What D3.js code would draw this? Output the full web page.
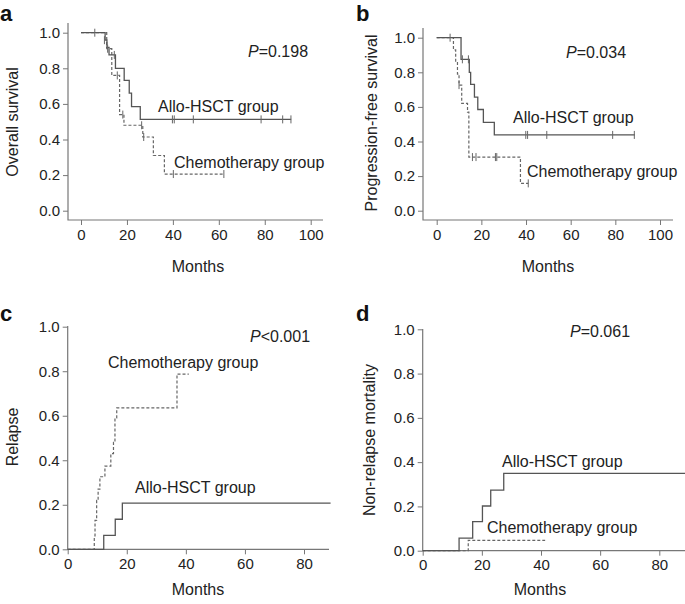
<!DOCTYPE html>
<html>
<head>
<meta charset="utf-8" />
<title>Survival curves</title>
<script src="https://d3js.org/d3.v7.min.js"></script>
<style>
body { margin: 0; background: #fff; }
svg { display: block; font-family: "Liberation Sans", Arial, sans-serif; }
.tick text { font-size: 15px; fill: #222; }
.tick line { stroke: #777; }
.axisline { stroke: #777; stroke-width: 1.2; fill: none; }
.allo { stroke: #555; stroke-width: 1.3; fill: none; }
.chemo { stroke: #666; stroke-width: 1.2; fill: none; stroke-dasharray: 3,2; }
.cens { stroke: #666; stroke-width: 1; }
.lbl { font-size: 16px; fill: #222; }
.letter { font-size: 22px; font-weight: bold; fill: #111; }
</style>
</head>
<body>
<script>
// tick labels
const monthTicksSurv = [0, 20, 40, 60, 80, 100];
const monthTicksCif = [0, 20, 40, 60, 80];
const probTicks = [0, 0.2, 0.4, 0.6, 0.8, 1.0];

// a: overall survival  [month, value]
const osAllo = [[0,1],[10.5,0.958],[11.3,0.917],[12.2,0.875],[15,0.80],[18.8,0.732],[21,0.66],[22,0.585],[25.8,0.513],[91.5,0.513]];
const osAlloCens = [[6,1],[10.2,0.958],[14.5,0.875],[39.8,0.513],[40.6,0.513],[48.9,0.513],[78.4,0.513],[87.8,0.513],[91.4,0.513]];
const osChemo = [[0,1],[11.2,0.91],[13.4,0.76],[16.8,0.54],[18.7,0.48],[26.9,0.414],[31.5,0.31],[36.3,0.206],[62.4,0.206]];
const osChemoCens = [[11.6,0.91],[15.8,0.76],[18.2,0.54],[26.4,0.48],[27.3,0.414],[40.2,0.206],[62.2,0.206]];

// b: progression-free survival
const pfsAllo = [[0,1],[10.9,0.875],[14.6,0.80],[15.2,0.73],[16.9,0.657],[18.4,0.585],[20.9,0.51],[25.8,0.438],[88.8,0.438]];
const pfsAlloCens = [[6,1],[11.5,0.875],[14.2,0.875],[39.9,0.438],[40.7,0.438],[49.3,0.438],[78.8,0.438],[88.5,0.438]];
const pfsChemo = [[0,1],[7.5,0.93],[8.5,0.86],[9.3,0.79],[10,0.726],[11.2,0.62],[13.8,0.57],[14.4,0.31],[37.5,0.158],[41,0.158]];
const pfsChemoCens = [[10,0.726],[16,0.31],[17.6,0.31],[26.3,0.31],[26.9,0.31],[41,0.158]];

// c: relapse (cumulative incidence)
const relAllo = [[0,0],[12.2,0.063],[16.1,0.135],[18.5,0.207],[89,0.207]];
const relChemo = [[0,0],[8.7,0.0],[9.0,0.06],[9.25,0.13],[9.8,0.22],[10.3,0.27],[10.9,0.326],[12.6,0.374],[14.6,0.43],[15.5,0.48],[16.0,0.59],[16.6,0.635],[37,0.787],[41,0.787]];

// d: non-relapse mortality
const nrmAllo = [[0,0],[12.3,0.057],[16.9,0.131],[20.2,0.202],[23.0,0.274],[27.4,0.349],[89,0.349]];
const nrmChemo = [[0,0],[15.4,0.047],[41.4,0.047]];

const W = 685, H = 604;
const svg = d3.select('body').append('svg').attr('width', W).attr('height', H);

const panels = [
  { letter: 'a', lx: 0, ly: 21, ylab: 'Overall survival', ylx: 13, yly: 122,
    x0: 81, x1: 310.7, xMax: 100, yTop: 32.7, yBot: 210.7,
    axX: 68, axTop: 23, axY: 220, axRight: 323, xTicks: monthTicksSurv,
    mx: 198, my: 272, p: ['P', '=0.198'], px: 248, py: 57,
    allo: osAllo, alloC: osAlloCens, chemo: osChemo, chemoC: osChemoCens,
    aLab: [158, 112], cLab: [174, 168] },
  { letter: 'b', lx: 356, ly: 21, ylab: 'Progression-free survival', ylx: 372, yly: 123,
    x0: 436.7, x1: 660, xMax: 100, yTop: 37.7, yBot: 210.7,
    axX: 423, axTop: 28, axY: 220, axRight: 673, xTicks: monthTicksSurv,
    mx: 548, my: 272, p: ['P', '=0.034'], px: 566, py: 58,
    allo: pfsAllo, alloC: pfsAlloCens, chemo: pfsChemo, chemoC: pfsChemoCens,
    aLab: [513, 123], cLab: [527, 177] },
  { letter: 'c', lx: 0, ly: 321, ylab: 'Relapse', ylx: 13, yly: 437,
    x0: 67.7, x1: 304, xMax: 80, yTop: 326.7, yBot: 549.3,
    axX: 67.7, axTop: 326, axY: 549.3, axRight: 329, xTicks: monthTicksCif,
    mx: 198, my: 595, p: ['P', '<0.001'], px: 250, py: 342,
    allo: relAllo, alloC: [], chemo: relChemo, chemoC: [],
    aLab: [135, 493], cLab: [108, 368] },
  { letter: 'd', lx: 356, ly: 321, ylab: 'Non-relapse mortality', ylx: 370, yly: 440,
    x0: 422.7, x1: 659.3, xMax: 80, yTop: 329.3, yBot: 550.7,
    axX: 422.7, axTop: 329, axY: 550.7, axRight: 685, xTicks: monthTicksCif,
    mx: 540, my: 595, p: ['P', '=0.061'], px: 570, py: 337,
    allo: nrmAllo, alloC: [], chemo: nrmChemo, chemoC: [],
    aLab: [502, 467], cLab: [487, 533] }
];

panels.forEach(function(p) {
  const g = svg.append('g');
  const x = d3.scaleLinear().domain([0, p.xMax]).range([p.x0, p.x1]);
  const y = d3.scaleLinear().domain([0, 1]).range([p.yBot, p.yTop]);

  const xa = g.append('g').attr('transform', 'translate(0,' + p.axY + ')')
    .call(d3.axisBottom(x).tickValues(p.xTicks).tickSize(5).tickPadding(4).tickFormat(d3.format('d')));
  xa.select('.domain').remove();
  const ya = g.append('g').attr('transform', 'translate(' + p.axX + ',0)')
    .call(d3.axisLeft(y).tickValues(probTicks).tickSize(5).tickPadding(3).tickFormat(d3.format('.1f')));
  ya.select('.domain').remove();

  g.append('path').attr('class', 'axisline')
    .attr('d', 'M' + p.axX + ',' + p.axTop + 'V' + p.axY + 'H' + p.axRight);

  const line = d3.line().x(d => x(d[0])).y(d => y(d[1])).curve(d3.curveStepAfter);
  g.append('path').attr('class', 'chemo').attr('d', line(p.chemo));
  g.append('path').attr('class', 'allo').attr('d', line(p.allo));

  const cens = p.alloC.concat(p.chemoC);
  g.selectAll('.cens').data(cens).enter().append('line').attr('class', 'cens')
    .attr('x1', d => x(d[0])).attr('x2', d => x(d[0]))
    .attr('y1', d => y(d[1]) - 4).attr('y2', d => y(d[1]) + 4);

  g.append('text').attr('class', 'letter').attr('x', p.lx).attr('y', p.ly).text(p.letter);
  g.append('text').attr('class', 'lbl').attr('text-anchor', 'middle')
    .attr('transform', 'translate(' + (p.ylx + 5) + ',' + p.yly + ') rotate(-90)').text(p.ylab);
  g.append('text').attr('class', 'lbl').attr('text-anchor', 'middle')
    .attr('x', p.mx).attr('y', p.my).text('Months');
  const pt = g.append('text').attr('class', 'lbl').attr('x', p.px).attr('y', p.py);
  pt.append('tspan').attr('font-style', 'italic').text(p.p[0]);
  pt.append('tspan').text(p.p[1]);
  g.append('text').attr('class', 'lbl').attr('x', p.aLab[0]).attr('y', p.aLab[1]).text('Allo-HSCT group');
  g.append('text').attr('class', 'lbl').attr('x', p.cLab[0]).attr('y', p.cLab[1]).text('Chemotherapy group');
});
</script>
</body>
</html>
